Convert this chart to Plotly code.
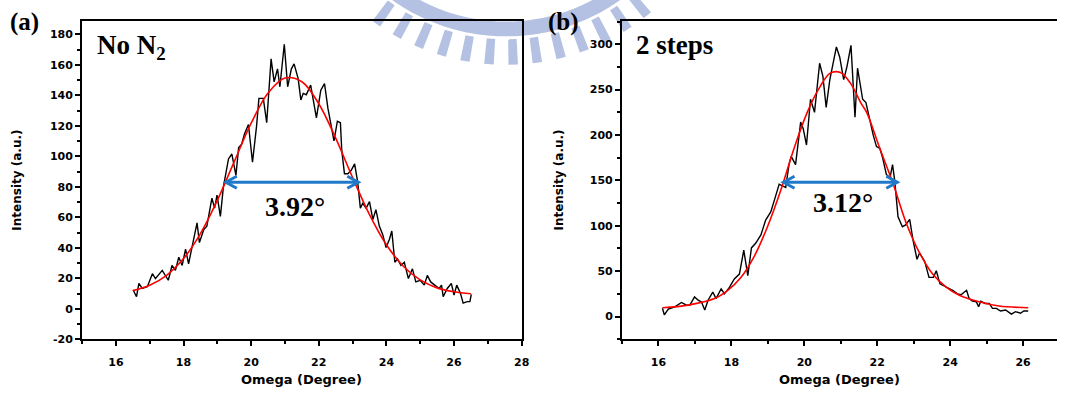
import numpy as np
import plotly.graph_objects as go

# ---------------- data ----------------
# (a) No N2 : measured rocking curve
a_omega = [16.51, 16.61, 16.68, 16.78, 16.93, 17.08, 17.17, 17.37, 17.55, 17.66, 17.76, 17.86,
           17.96, 18.06, 18.15, 18.25, 18.40, 18.47, 18.60, 18.69, 18.84, 18.92, 18.99, 19.09,
           19.18, 19.33, 19.43, 19.55, 19.63, 19.72, 19.80, 19.92, 20.04, 20.16, 20.23, 20.36,
           20.46, 20.59, 20.68, 20.78, 20.85, 20.98, 21.08, 21.19, 21.27, 21.39, 21.47, 21.54,
           21.63, 21.76, 21.83, 21.93, 22.06, 22.17, 22.27, 22.37, 22.45, 22.55, 22.64, 22.68,
           22.76, 22.86, 22.96, 23.06, 23.15, 23.23, 23.30, 23.40, 23.50, 23.60, 23.69, 23.79,
           23.89, 23.99, 24.09, 24.16, 24.25, 24.33, 24.43, 24.53, 24.65, 24.77, 24.87, 25.00,
           25.12, 25.21, 25.31, 25.43, 25.56, 25.63, 25.68, 25.80, 25.92, 26.00, 26.08, 26.19,
           26.27, 26.39, 26.47, 26.51]
a_counts = [12.3, 7.9, 16.6, 13.3, 14.4, 23.0, 19.8, 25.2, 18.7, 28.4, 25.2, 33.8,
            28.4, 39.1, 29.5, 40.2, 56.3, 43.4, 52.0, 54.2, 72.5, 66.0, 74.6, 60.6,
            80.0, 98.3, 101.5, 87.5, 105.8, 108.0, 114.4, 120.9, 96.1, 119.8, 138.0, 138.0,
            122.0, 163.9, 148.8, 157.4, 145.6, 173.5, 145.6, 157.4, 160.6, 151.0, 137.0, 141.3,
            140.4, 146.7, 138.0, 125.2, 143.4, 147.7, 131.6, 120.9, 110.1, 123.0, 122.0, 103.7,
            88.6, 88.6, 90.8, 95.0, 83.2, 66.0, 69.2, 66.0, 70.3, 58.5, 65.0, 54.2,
            48.8, 40.2, 45.6, 51.0, 30.5, 32.7, 28.4, 30.5, 19.8, 26.2, 17.6, 18.7,
            15.5, 21.9, 17.6, 15.5, 13.3, 15.5, 7.9, 13.3, 16.6, 9.0, 15.5, 10.1,
            3.7, 4.7, 4.7, 9.5]
# (a) fitted profile
a_fit_omega = [16.5, 17.0, 17.5, 18.0, 18.5, 19.0, 19.5, 20.0, 20.5, 21.0, 21.5,
               22.0, 22.5, 23.0, 23.5, 24.0, 24.5, 25.0, 25.5, 26.0, 26.5]
a_fit = [11.9, 15.4, 21.9, 32.9, 49.3, 71.1, 96.5, 121.7, 141.5, 151.4, 148.9,
         134.5, 111.9, 86.1, 61.8, 42.0, 27.9, 18.9, 13.7, 11.1, 9.8]

# (b) 2 steps : measured rocking curve
b_omega = [16.11, 16.16, 16.27, 16.45, 16.63, 16.77, 16.86, 16.99, 17.09, 17.18, 17.27, 17.36,
           17.49, 17.58, 17.72, 17.81, 17.95, 18.08, 18.22, 18.34, 18.45, 18.55, 18.67, 18.81,
           18.94, 19.08, 19.19, 19.31, 19.40, 19.49, 19.58, 19.64, 19.76, 19.90, 19.97, 20.06,
           20.17, 20.28, 20.42, 20.51, 20.60, 20.70, 20.88, 20.97, 21.08, 21.17, 21.28, 21.39,
           21.46, 21.53, 21.60, 21.69, 21.80, 21.89, 21.98, 22.07, 22.15, 22.25, 22.35, 22.42,
           22.48, 22.57, 22.69, 22.78, 22.89, 22.98, 23.09, 23.16, 23.30, 23.42, 23.54, 23.62,
           23.72, 23.89, 24.07, 24.20, 24.30, 24.39, 24.45, 24.52, 24.61, 24.72, 24.78, 24.84,
           24.96, 25.07, 25.16, 25.27, 25.38, 25.52, 25.68, 25.79, 25.93, 26.02, 26.14]
b_counts = [9.1, 1.8, 8.3, 10.8, 15.5, 12.5, 12.5, 21.6, 18.0, 16.0, 7.2, 18.0,
            27.0, 19.8, 30.6, 25.0, 32.4, 41.4, 46.8, 73.1, 45.0, 75.6, 81.0, 90.0,
            106.2, 115.2, 129.6, 145.8, 144.0, 142.2, 167.4, 176.4, 167.4, 214.2, 207.0, 189.0,
            239.4, 225.0, 279.0, 264.6, 230.4, 261.0, 297.0, 286.0, 261.0, 275.4, 298.8, 219.6,
            273.6, 257.4, 239.4, 235.8, 214.2, 199.8, 187.2, 185.4, 174.6, 156.6, 153.0, 167.4,
            149.4, 109.8, 99.0, 101.0, 107.0, 84.6, 63.0, 70.0, 61.0, 43.2, 43.2, 50.4,
            36.0, 32.4, 28.8, 25.0, 24.0, 27.0, 28.8, 19.8, 17.0, 16.2, 10.8, 17.0,
            14.4, 14.4, 9.0, 9.0, 6.1, 7.2, 2.6, 5.4, 3.6, 6.1, 6.1]
# (b) fitted profile
b_fit_omega = [16.11, 16.81, 17.54, 17.90, 18.26, 18.63, 18.99, 19.35, 19.72, 20.08, 20.44,
               20.71, 20.99, 21.26, 21.57, 21.71, 22.07, 22.44, 22.80, 23.16, 23.52, 23.89,
               24.25, 24.79, 25.34, 26.14]
b_fit = [9.7, 12.6, 19.8, 28.8, 43.0, 66.6, 99.0, 138.6, 185.4, 225.0, 253.8,
         268.2, 268.9, 257.4, 234.0, 225.0, 185.4, 145.8, 102.6, 70.2, 46.8, 32.4,
         23.4, 16.2, 11.6, 9.7]

# FWHM markers: (left end, width, level)
a_fwhm_start, a_fwhm, a_fwhm_level = 19.25, 3.92, 83
b_fwhm_start, b_fwhm, b_fwhm_level = 19.43, 3.12, 148

x_ticks_a = [16, 18, 20, 22, 24, 26, 28]
x_ticks_b = [16, 18, 20, 22, 24, 26]
y_ticks_a = [-20, 0, 20, 40, 60, 80, 100, 120, 140, 160, 180]
y_ticks_b = [0, 50, 100, 150, 200, 250, 300]

# ---------------- layout helpers ----------------
W, H = 1065, 399


def fx(p):
    return p / W


def fy(p):
    return 1 - p / H


BLUE = "#1f78c8"
TICKFONT = dict(family="DejaVu Sans", size=11, color="black", weight="bold")
XTITLEFONT = dict(family="DejaVu Sans", size=13, color="black", weight="bold")
YTITLEFONT = dict(family="DejaVu Sans", size=12, color="black", weight="bold")

fig = go.Figure()

panels = [
    ("x", "y", a_omega, a_counts, a_fit_omega, a_fit, a_fwhm_start, a_fwhm, a_fwhm_level),
    ("x2", "y2", b_omega, b_counts, b_fit_omega, b_fit, b_fwhm_start, b_fwhm, b_fwhm_level),
]

for xa, ya, xo, yc, xf, yf, f0, fw, fl in panels:
    fig.add_trace(go.Scatter(x=xo, y=yc, mode="lines", xaxis=xa, yaxis=ya,
                             line=dict(color="black", width=1.4), showlegend=False,
                             hoverinfo="skip"))
    fig.add_trace(go.Scatter(x=xf, y=yf, mode="lines", xaxis=xa, yaxis=ya,
                             line=dict(color="#ff0000", width=1.6, shape="spline"),
                             showlegend=False, hoverinfo="skip"))
    # double-headed width marker
    fig.add_trace(go.Scatter(x=[f0, f0 + fw], y=[fl, fl], mode="lines", xaxis=xa, yaxis=ya,
                             line=dict(color=BLUE, width=3), showlegend=False,
                             hoverinfo="skip"))
    for anchor, sgn in ((f0, 1), (f0 + fw, -1)):
        fig.add_shape(type="path", xref=xa, yref=ya, xsizemode="pixel", ysizemode="pixel",
                      xanchor=anchor, yanchor=fl,
                      path=f"M {11 * sgn},6 L 0,0 L {11 * sgn},-6",
                      line=dict(color=BLUE, width=3))

axis_common = dict(showline=True, linecolor="black", linewidth=2, mirror=True,
                   ticks="outside", ticklen=5, tickwidth=1.6, tickcolor="black",
                   showgrid=False, zeroline=False, tickfont=TICKFONT)
minor_x = dict(ticks="outside", ticklen=3, tickwidth=1.6, dtick=1, tick0=15, tickcolor="black")

fig.update_layout(
    width=W, height=H, autosize=False,
    margin=dict(l=0, r=0, t=0, b=0),
    paper_bgcolor="white", plot_bgcolor="rgba(0,0,0,0)",
    xaxis=dict(domain=[fx(82.7), fx(525.6)], range=[15, 28], anchor="y",
               tickvals=x_ticks_a, ticklabelstandoff=7, minor=minor_x, **axis_common),
    yaxis=dict(domain=[fy(345.3), fy(21)], range=[-20, 189], anchor="x",
               tickvals=y_ticks_a, ticktext=[str(v) for v in y_ticks_a],
               minor=dict(ticks="outside", ticklen=3, tickwidth=1.6, dtick=10,
                          tickcolor="black"),
               **axis_common),
    xaxis2=dict(domain=[fx(626.7), 1.0], range=[15, 26.93], anchor="y2",
                tickvals=x_ticks_b, ticklabelstandoff=7, minor=minor_x, **axis_common),
    yaxis2=dict(domain=[fy(345.3), fy(21)], range=[-25, 326], anchor="x2",
                tickvals=y_ticks_b,
                minor=dict(ticks="outside", ticklen=3, tickwidth=1.6, dtick=25,
                           tickcolor="black"),
                **{**axis_common, "mirror": False}),
)

# ---------------- text ----------------
serif_b = dict(family="Liberation Serif", color="black", weight="bold")
ann = [
    dict(text="(a)", x=fx(25), y=fy(22), font=dict(size=25, **serif_b)),
    dict(text="(b)", x=fx(568), y=fy(22), font=dict(size=25, **serif_b)),
    dict(text="No N<sub>2</sub>", x=fx(96), y=fy(48), xanchor="left",
         font=dict(size=27, **serif_b)),
    dict(text="2 steps", x=fx(639), y=fy(46), xanchor="left",
         font=dict(size=27, **serif_b)),
    dict(text="Omega (Degree)", x=fx(304), y=fy(386), font=XTITLEFONT),
    dict(text="Omega (Degree)", x=fx(846), y=fy(386), font=XTITLEFONT),
    dict(text="Intensity (a.u.)", x=fx(17), y=fy(183), textangle=-90, font=YTITLEFONT),
    dict(text="Intensity (a.u.)", x=fx(563), y=fy(183), textangle=-90, font=YTITLEFONT),
]
for a in ann:
    a.setdefault("xanchor", "center")
    a.setdefault("yanchor", "middle")
    fig.add_annotation(xref="paper", yref="paper", showarrow=False, **a)

fig.add_annotation(text="3.92°", x=21.3, y=67, xref="x", yref="y", showarrow=False,
                   font=dict(size=28, **serif_b))
fig.add_annotation(text="3.12°", x=21.05, y=126, xref="x2", yref="y2", showarrow=False,
                   font=dict(size=28, **serif_b))

# ---------------- emblem in the page header ----------------
EMB = "#b4c1e2"
cx, cy = 510.0, -160.0


def pth(points):
    return "M " + " L ".join(f"{fx(x):.5f},{fy(y):.5f}" for x, y in points) + " Z"


ts = np.radians(np.linspace(45, 135, 90))
outer = [(cx + 197 * np.cos(t), cy + 197 * np.sin(t)) for t in ts]
inner = [(cx + 182 * np.cos(t), cy + 182 * np.sin(t)) for t in ts[::-1]]
fig.add_shape(type="path", xref="paper", yref="paper", layer="below",
              path=pth(outer + inner), fillcolor=EMB, line=dict(width=0))
for deg in np.arange(51, 131, 6.2):
    t = np.radians(deg)
    hw = 4.5 / 212
    pts = [(cx + r * np.cos(t + s * hw), cy + r * np.sin(t + s * hw))
           for r, s in ((200, -1), (226, -1), (226, 1), (200, 1))]
    fig.add_shape(type="path", xref="paper", yref="paper", layer="below",
                  path=pth(pts), fillcolor=EMB, line=dict(width=0))

fig.write_html("out.html")
